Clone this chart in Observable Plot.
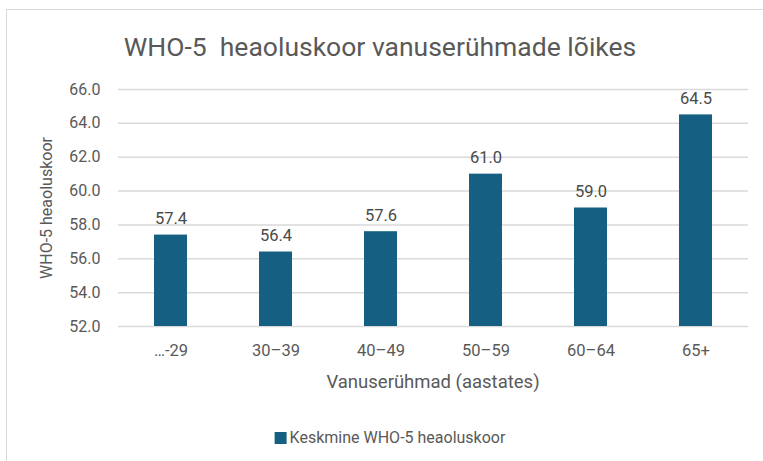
<!DOCTYPE html>
<html><head><meta charset="utf-8">
<script src="https://cdn.jsdelivr.net/npm/d3@7"></script>
<script src="https://cdn.jsdelivr.net/npm/@observablehq/plot@0.6"></script>
<style>
body{margin:0;background:#fff;overflow:hidden}
#wrap{position:relative;width:763px;height:461px;font-family:Roboto,"Liberation Sans",sans-serif;color:#595959;overflow:hidden}
#frame{position:absolute;left:6px;top:9px;width:820px;height:520px;border:1.5px solid #d9d9d9;box-sizing:border-box}
#chart{position:absolute;left:0;top:0}
.t{position:absolute;white-space:nowrap;line-height:1}
#title{left:380px;top:47px;font-size:26.5px;transform:translate(-50%,-50%)}
#ylab{left:47px;top:208px;font-size:16px;transform:translate(-50%,-50%) rotate(-90deg)}
#xlab{left:433px;top:382px;font-size:18.5px;transform:translate(-50%,-50%)}
#legend{left:390px;top:438px;font-size:16px;transform:translate(-50%,-50%);display:flex;align-items:center;gap:3px}
#legend .sw{width:12px;height:12px;background:#156082;display:inline-block}
</style></head>
<body>
<div id="wrap">
  <div id="frame"></div>
  <div id="chart"></div>
  <div class="t" id="title">WHO-5&nbsp; heaoluskoor vanuserühmade lõikes</div>
  <div class="t" id="ylab">WHO-5 heaoluskoor</div>
  <div class="t" id="xlab">Vanuserühmad (aastates)</div>
  <div class="t" id="legend"><span class="sw"></span><span>Keskmine WHO-5 heaoluskoor</span></div>
</div>
<script>
const ageGroups = ["…-29", "30–39", "40–49", "50–59", "60–64", "65+"];
const meanScores = [57.4, 56.4, 57.6, 61.0, 59.0, 64.5];
const yTicks = [52, 54, 56, 58, 60, 62, 64, 66];
const seriesName = "Keskmine WHO-5 heaoluskoor";

const data = ageGroups.map((g, i) => ({group: g, value: meanScores[i]}));
const yMin = yTicks[0], yMax = yTicks[yTicks.length - 1];

const chart = Plot.plot({
  width: 763,
  height: 461,
  marginLeft: 118,
  marginRight: 15,
  marginTop: 89,
  marginBottom: 135,
  style: {fontFamily: "Roboto, 'Liberation Sans', sans-serif", color: "#595959", background: "transparent"},
  x: {domain: ageGroups, paddingInner: 0.69, paddingOuter: 0.345, label: null},
  y: {domain: [yMin, yMax], label: null},
  marks: [
    Plot.ruleY(yTicks, {stroke: "#d9d9d9", strokeWidth: 1.5}),
    Plot.barY(data, {x: "group", y1: yMin, y2: "value", fill: "#156082"}),
    Plot.text(data, {x: "group", y: "value", text: d => d.value.toFixed(1), lineAnchor: "bottom", dy: -11, fontSize: 16.5, fill: "#4a4a4a"}),
    Plot.axisY({ticks: yTicks, tickFormat: d => d.toFixed(1), tickSize: 0, tickPadding: 18, fontSize: 16, label: null}),
    Plot.axisX({tickSize: 0, tickPadding: 18, fontSize: 16.5, label: null})
  ]
});
document.getElementById("chart").appendChild(chart);
</script>
</body></html>
